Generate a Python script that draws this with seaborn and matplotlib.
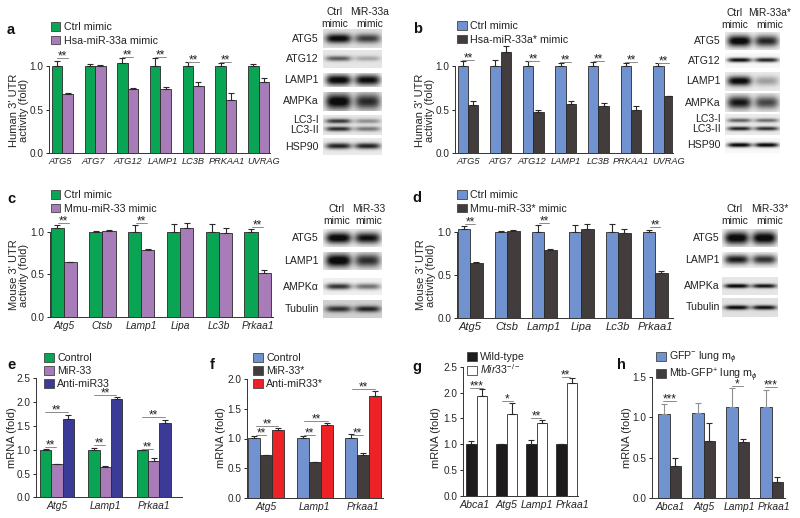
import numpy as np
import pandas as pd
import matplotlib
matplotlib.use('Agg')
import matplotlib.pyplot as plt
from matplotlib.patches import Patch
from matplotlib.transforms import ScaledTranslation
import seaborn as sns

# colours
GREEN = '#0aa455'
PURPLE = '#a87cb8'
BLUE = '#7093d0'
DARK = '#423c3c'
NAVY = '#3b3a96'
RED = '#ec2227'
BLACK = '#1d1b1b'

# panel a
a_genes = ['ATG5', 'ATG7', 'ATG12', 'LAMP1', 'LC3B', 'PRKAA1', 'UVRAG']
a_ctrl = [1.0, 1.0, 1.04, 1.0, 1.0, 1.0, 1.0]
a_ctrl_err = [0.06, 0.02, 0.05, 0.09, 0.05, 0.04, 0.02]
a_mir = [0.68, 1.0, 0.73, 0.74, 0.77, 0.61, 0.82]
a_mir_err = [0.01, 0.01, 0.02, 0.02, 0.05, 0.08, 0.04]
a_sig = [(-.17, .17, 1.09, '**'), (1.83, 2.17, 1.10, '**'), (2.83, 3.17, 1.10, '**'),
         (3.83, 4.17, 1.05, '**'), (4.83, 5.17, 1.05, '**')]

# panel b
b_genes = a_genes
b_ctrl = [1.0, 1.0, 1.0, 1.0, 1.0, 1.0, 1.0]
b_ctrl_err = [0.06, 0.07, 0.06, 0.03, 0.05, 0.04, 0.03]
b_mir = [0.55, 1.16, 0.47, 0.56, 0.54, 0.49, 0.65]
b_mir_err = [0.05, 0.07, 0.02, 0.04, 0.03, 0.05, 0.01]
b_sig = [(-.17, .17, 1.07, '**'), (1.83, 2.17, 1.06, '**'), (2.83, 3.17, 1.05, '**'),
         (3.83, 4.17, 1.06, '**'), (4.83, 5.17, 1.05, '**'), (5.83, 6.17, 1.03, '**')]

# panel c
c_genes = ['Atg5', 'Ctsb', 'Lamp1', 'Lipa', 'Lc3b', 'Prkaa1']
c_ctrl = [1.04, 1.0, 1.0, 1.0, 1.0, 1.0]
c_ctrl_err = [0.04, 0.01, 0.08, 0.09, 0.09, 0.03]
c_mir = [0.64, 1.01, 0.79, 1.04, 0.99, 0.52]
c_mir_err = [0.01, 0.01, 0.01, 0.06, 0.05, 0.03]
c_sig = [(-.14, .14, 1.10, '**'), (1.86, 2.14, 1.10, '**'), (4.86, 5.14, 1.05, '**')]

# panel d
d_genes = c_genes
d_ctrl = [1.04, 1.0, 1.0, 1.0, 1.0, 1.0]
d_ctrl_err = [0.04, 0.02, 0.09, 0.09, 0.10, 0.03]
d_mir = [0.64, 1.02, 0.79, 1.04, 0.99, 0.52]
d_mir_err = [0.01, 0.01, 0.01, 0.06, 0.05, 0.03]
d_sig = [(-.14, .14, 1.10, '**'), (1.86, 2.14, 1.11, '**'), (4.86, 5.14, 1.06, '**')]

# panel e
e_genes = ['Atg5', 'Lamp1', 'Prkaa1']
e_control = [1.0, 1.0, 0.99]
e_control_err = [0.01, 0.04, 0.01]
e_mir = [0.70, 0.64, 0.77]
e_mir_err = [0.01, 0.02, 0.06]
e_anti = [1.64, 2.07, 1.57]
e_anti_err = [0.08, 0.03, 0.05]
e_sig = [(-.25, -.03, 1.06, '**'), (-.25, .23, 1.79, '**'), (.77, .99, 1.09, '**'),
         (.77, 1.23, 2.14, '**'), (1.77, 1.98, 1.02, '**'), (1.77, 2.23, 1.69, '**')]

# panel f
f_genes = e_genes
f_control = [1.01, 1.01, 1.01]
f_control_err = [0.03, 0.03, 0.06]
f_mir = [0.72, 0.60, 0.73]
f_mir_err = [0.01, 0.01, 0.03]
f_anti = [1.15, 1.23, 1.72]
f_anti_err = [0.02, 0.03, 0.08]
f_sig = [(-.22, 0, 1.06, '**'), (-.22, .25, 1.21, '**'), (.78, 1.0, 1.06, '**'),
         (.78, 1.28, 1.30, '**'), (1.77, 2.0, 1.06, '**'), (1.77, 2.24, 1.84, '**')]

# panel g
g_genes = ['Abca1', 'Atg5', 'Lamp1', 'Prkaa1']
g_wt = [1.0, 1.0, 1.0, 1.0]
g_wt_err = [0.06, 0.01, 0.08, 0.01]
g_ko = [1.94, 1.59, 1.41, 2.18]
g_ko_err = [0.13, 0.20, 0.06, 0.10]
g_sig = [(-.22, .22, 2.08, '***'), (.83, 1.22, 1.83, '*'), (1.81, 2.14, 1.50, '**'),
         (2.83, 3.11, 2.30, '**')]

# panel h
h_genes = g_genes
h_neg = [1.04, 1.05, 1.12, 1.12]
h_neg_err = [0.12, 0.12, 0.24, 0.21]
h_pos = [0.40, 0.71, 0.69, 0.20]
h_pos_err = [0.09, 0.22, 0.04, 0.06]
h_sig = [(-.19, .19, 1.20, '***'), (1.82, 2.17, 1.38, '*'), (2.80, 3.15, 1.37, '***')]

# blots: darkness of the band(s) in each row for both lanes
a_blot_labels = ['ATG5', 'ATG12', 'LAMP1', 'AMPKa', 'LC3-I\nLC3-II', 'HSP90']
a_blot_ctrl = [[.9], [.55], [1.0], [.95], [.7, .75], [.8]]
a_blot_mir = [[.65], [.25], [.95], [.75], [.35, .45], [.8]]
a_blot_width = [.25, .14, .4, .42, .12, .17]
a_blot_bg = [.12, .1, .03, .1, .1, .08]

b_blot_labels = ['ATG5', 'ATG12', 'LAMP1', 'AMPKa', 'LC3-I\nLC3-II', 'HSP90']
b_blot_ctrl = [[1.0], [.95], [.95], [.85], [.55, .8], [1.0]]
b_blot_mir = [[.8], [.85], [.3], [.65], [.5, .75], [1.0]]
b_blot_width = [.32, .14, .24, .34, .1, .14]
b_blot_bg = [.06, .03, .08, .08, .08, .03]

c_blot_labels = ['ATG5', 'LAMP1', 'AMPK\u03b1', 'Tubulin']
c_blot_ctrl = [[1.0], [1.0], [.75], [.65]]
c_blot_mir = [[.9], [.75], [.5], [.7]]
c_blot_width = [.32, .36, .18, .18]
c_blot_bg = [.06, .08, .06, .18]

d_blot_labels = ['ATG5', 'LAMP1', 'AMPKa', 'Tubulin']
d_blot_ctrl = [[1.0], [.85], [.95], [.9]]
d_blot_mir = [[1.0], [.75], [.85], [.85]]
d_blot_width = [.36, .28, .12, .12]
d_blot_bg = [.06, .06, .1, .12]

# font setup
sns.set_theme(style='ticks')
plt.rcParams['font.family'] = ['Liberation Sans', 'DejaVu Sans']
plt.rcParams['mathtext.fontset'] = 'custom'
plt.rcParams['mathtext.rm'] = 'Liberation Sans'
plt.rcParams['mathtext.it'] = 'Liberation Sans:italic'
plt.rcParams['axes.linewidth'] = 0.7
plt.rcParams['axes.edgecolor'] = '#333333'
plt.rcParams['text.color'] = '#222222'

W, H = 800, 518
fig = plt.figure(figsize=(W / 100, H / 100), dpi=100)


def px_axes(left, right, top, bottom):
    return fig.add_axes([left / W, 1 - bottom / H, (right - left) / W, (bottom - top) / H])


def bar_panel(letter, letter_xy, genes, groups, names, colors, box, center0, spacing, barw, scale,
              ymax, yticks, ylabel, label_x, label_y, tick_size, sig, legend_xy, err_colors=None,
              row_gap=0.36, tick_shift=None):
    left, right, top, bottom = box
    ax = px_axes(left, right, top, bottom)
    ax.patch.set_visible(False)
    rows = []
    for name, (vals, errs) in zip(names, groups):
        for g, v in zip(genes, vals):
            rows.append({'gene': g, 'group': name, 'value': v})
    df = pd.DataFrame(rows)
    n = len(names)
    sns.barplot(data=df, x='gene', y='value', hue='group', order=genes, hue_order=names,
                palette=colors, width=barw / spacing * n, gap=0, saturation=1, errorbar=None,
                edgecolor='#2a2a2a', linewidth=0.6, legend=False, ax=ax)
    for i, (container, (vals, errs)) in enumerate(zip(ax.containers, groups)):
        ec = err_colors[i] if err_colors else '#2a2a2a'
        for bar, v, e in zip(container, vals, errs):
            ax.errorbar(bar.get_x() + bar.get_width() / 2, v, yerr=[[0], [e]], color=ec,
                        capsize=1.9, elinewidth=0.8, capthick=0.8, zorder=1)
    ax.set_xlim((left - center0) / spacing, (right - center0) / spacing)
    ax.set_ylim(0, (bottom - top) / scale)
    sns.despine(ax=ax)
    ax.spines['left'].set_bounds(0, ymax)
    ax.set_yticks(yticks)
    ax.set_yticklabels(['%.1f' % t for t in yticks], fontsize=7.2)
    ax.tick_params(axis='y', length=2.5, width=0.7, pad=1.5)
    ax.tick_params(axis='x', length=0, pad=3)
    ax.set_xticks(range(len(genes)))
    ax.set_xticklabels(genes, fontsize=tick_size, style='italic')
    # some gene names sit off centre so they don't run into each other
    if tick_shift:
        for lab, dx in zip(ax.get_xticklabels(), tick_shift):
            lab.set_transform(lab.get_transform() + ScaledTranslation(dx / 100, 0, fig.dpi_scale_trans))
    ax.set_xlabel('')
    ax.set_ylabel(ylabel, fontsize=8, linespacing=1.05, va='center')
    ax.yaxis.set_label_coords(label_x / W, 1 - label_y / H, transform=fig.transFigure)
    for x0, x1, y, star in sig:
        ax.plot([x0, x1], [y, y], color='#8a8a8a', lw=0.7, clip_on=False)
        ax.annotate(star, ((x0 + x1) / 2, y), xytext=(0, -3.2), textcoords='offset points',
                    ha='center', va='bottom', fontsize=8.5, color='#222222')
    fig.text(letter_xy[0] / W, 1 - letter_xy[1] / H, letter, fontsize=10.5, fontweight='bold',
             ha='center', va='center', color='#111111')
    handles = [Patch(facecolor=c, edgecolor='#444444', linewidth=0.6, label=nm)
               for c, nm in zip(colors, names)]
    fig.legend(handles=handles, loc='upper left', bbox_to_anchor=(legend_xy[0] / W, 1 - legend_xy[1] / H),
               frameon=False, fontsize=7.7, borderpad=0, borderaxespad=0, handlelength=0.9,
               handleheight=0.85, handletextpad=0.35, labelspacing=row_gap, labelcolor='#222222')
    return ax


def blot_row(box, ctrl, mir, width, bg):
    left, right, top, bottom = box
    ax = px_axes(left, right, top, bottom)
    yy, xx = np.mgrid[0:1:40j, 0:1:70j]
    img = np.full(xx.shape, bg, dtype=float)
    for lane, dark in ((.26, ctrl), (.76, mir)):
        ys = [.5] if len(dark) == 1 else [.3, .7]
        for y0, d in zip(ys, dark):
            img += d * np.exp(-(np.abs(xx - lane) / .22) ** 4) * np.exp(-((yy - y0) / width) ** 2)
    ax.imshow(1 - np.clip(img, 0, .95), cmap='gray', vmin=0, vmax=1, aspect='auto', interpolation='bilinear')
    ax.axis('off')


def blot_panel(xlim, rows, labels, ctrl, mir, widths, bgs, label_x, heads, head_x, head_y):
    for (top, bottom), lab, c, m, w, b in zip(rows, labels, ctrl, mir, widths, bgs):
        blot_row((xlim[0], xlim[1], top, bottom), c, m, w, b)
        fig.text(label_x / W, 1 - (top + bottom) / 2 / H, lab, ha='right', va='center', fontsize=7.6,
                 linespacing=1.0)
    for head, x in zip(heads, head_x):
        fig.text(x / W, 1 - head_y / H, head, ha='center', va='center', fontsize=7.4, linespacing=1.15)


ab_ticks = [0.0, 0.5, 1.0]
bar_panel('a', (11, 30), a_genes, [(a_ctrl, a_ctrl_err), (a_mir, a_mir_err)],
          ['Ctrl mimic', 'Hsa-miR-33a mimic'], [GREEN, PURPLE], (49, 270, 40, 153), 62.3, 32.7, 10.5, 87,
          1.0, ab_ticks, "Human 3' UTR\nactivity (fold)", 19, 110, 6.7, a_sig, (50.5, 22),
          tick_shift=[-2.3, -1.3, 0, 2.3, 0, 1.3, 5])
bar_panel('b', (418, 29), b_genes, [(b_ctrl, b_ctrl_err), (b_mir, b_mir_err)],
          ['Ctrl mimic', 'Hsa-miR-33a* mimic'], [BLUE, DARK], (455, 673, 40, 153), 468, 32.6, 10.4, 87,
          1.0, ab_ticks, "Human 3' UTR\nactivity (fold)", 425, 110, 6.7, b_sig, (457, 21),
          tick_shift=[0, 0, -1.3, 0, 0, 0, 5])
bar_panel('c', (11, 199), c_genes, [(c_ctrl, c_ctrl_err), (c_mir, c_mir_err)],
          ['Ctrl mimic', 'Mmu-miR-33 mimic'], [GREEN, PURPLE], (50, 273, 205, 317), 63.7, 38.8, 13.2, 85.3,
          1.0, ab_ticks, "Mouse 3' UTR\nactivity (fold)", 19, 275, 7.4, c_sig, (50.5, 190))
bar_panel('d', (417, 198), d_genes, [(d_ctrl, d_ctrl_err), (d_mir, d_mir_err)],
          ['Ctrl mimic', 'Mmu-miR-33* mimic'], [BLUE, DARK], (456.7, 673, 205, 317.7), 470, 37, 12.5, 85.3,
          1.0, ab_ticks, "Mouse 3' UTR\nactivity (fold)", 426, 275, 8, d_sig, (457, 190))
bar_panel('e', (11, 365), e_genes, [(e_control, e_control_err), (e_mir, e_mir_err), (e_anti, e_anti_err)],
          ['Control', 'MiR-33', 'Anti-miR33'], [GREEN, PURPLE, NAVY], (35.7, 181.7, 378, 497.3), 57, 48.3, 11.3, 47.6,
          2.5, [0, .5, 1, 1.5, 2, 2.5], 'mRNA (fold)', 12, 438, 7.4, e_sig, (44, 353), row_gap=0.28)
bar_panel('f', (212, 365), f_genes, [(f_control, f_control_err), (f_mir, f_mir_err), (f_anti, f_anti_err)],
          ['Control', 'MiR-33*', 'Anti-miR33*'], [BLUE, DARK, RED], (246.7, 382.7, 379, 498), 266.3, 48.5, 11.9, 59.5,
          2.0, [0, .5, 1, 1.5, 2], 'mRNA (fold)', 221, 438, 7.4, f_sig, (253, 353), row_gap=0.28)
bar_panel('g', (417, 367), g_genes, [(g_wt, g_wt_err), (g_ko, g_ko_err)],
          ['Wild-type', r'$\mathit{Mir33}^{-/-}$'], [BLACK, 'white'], (463.3, 578, 366, 496), 476.7, 30, 10.5, 51.7,
          2.5, [0, .5, 1, 1.5, 2, 2.5], 'mRNA (fold)', 436, 438, 7.7, g_sig, (467, 352), row_gap=0.02,
          tick_shift=[-1.7, 0, 0.3, 5.3])
bar_panel('h', (621, 365), h_genes, [(h_neg, h_neg_err), (h_pos, h_pos_err)],
          [r'GFP$^{-}$ lung m$_{\phi}$', r'Mtb-GFP$^{+}$ lung m$_{\phi}$'], [BLUE, DARK], (651.7, 785, 376, 498), 669.7, 34, 11.3, 80.9,
          1.5, [0, .5, 1, 1.5], 'mRNA (fold)', 627, 438, 7.4, h_sig, (656, 349.5), err_colors=['#8f8f8f', '#2a2a2a'],
          row_gap=0.0, tick_shift=[0, 0, 1.3, 2.3])

blot_panel((322.7, 381.7), [(29, 48), (50, 68), (73, 87), (92, 111), (115, 135), (138, 155)],
           a_blot_labels, a_blot_ctrl, a_blot_mir, a_blot_width, a_blot_bg, 319,
           ['Ctrl\nmimic', 'MiR-33a\nmimic'], [335, 370], 18)
blot_panel((725, 780), [(32, 50), (53, 68), (72, 91), (93, 112), (114, 135), (138, 153)],
           b_blot_labels, b_blot_ctrl, b_blot_mir, b_blot_width, b_blot_bg, 721,
           ['Ctrl\nmimic', 'MiR-33a*\nmimic'], [735, 770], 19)
blot_panel((323, 382), [(229, 247), (252, 270), (278, 295), (300, 318)],
           c_blot_labels, c_blot_ctrl, c_blot_mir, c_blot_width, c_blot_bg, 319,
           ['Ctrl\nmimic', 'MiR-33\nmimic'], [337, 369], 215)
blot_panel((722, 778), [(229, 247), (252, 268), (277, 295), (298, 317)],
           d_blot_labels, d_blot_ctrl, d_blot_mir, d_blot_width, d_blot_bg, 720,
           ['Ctrl\nmimic', 'MiR-33*\nmimic'], [735, 770], 215)

fig.savefig('out.png', dpi=100)
